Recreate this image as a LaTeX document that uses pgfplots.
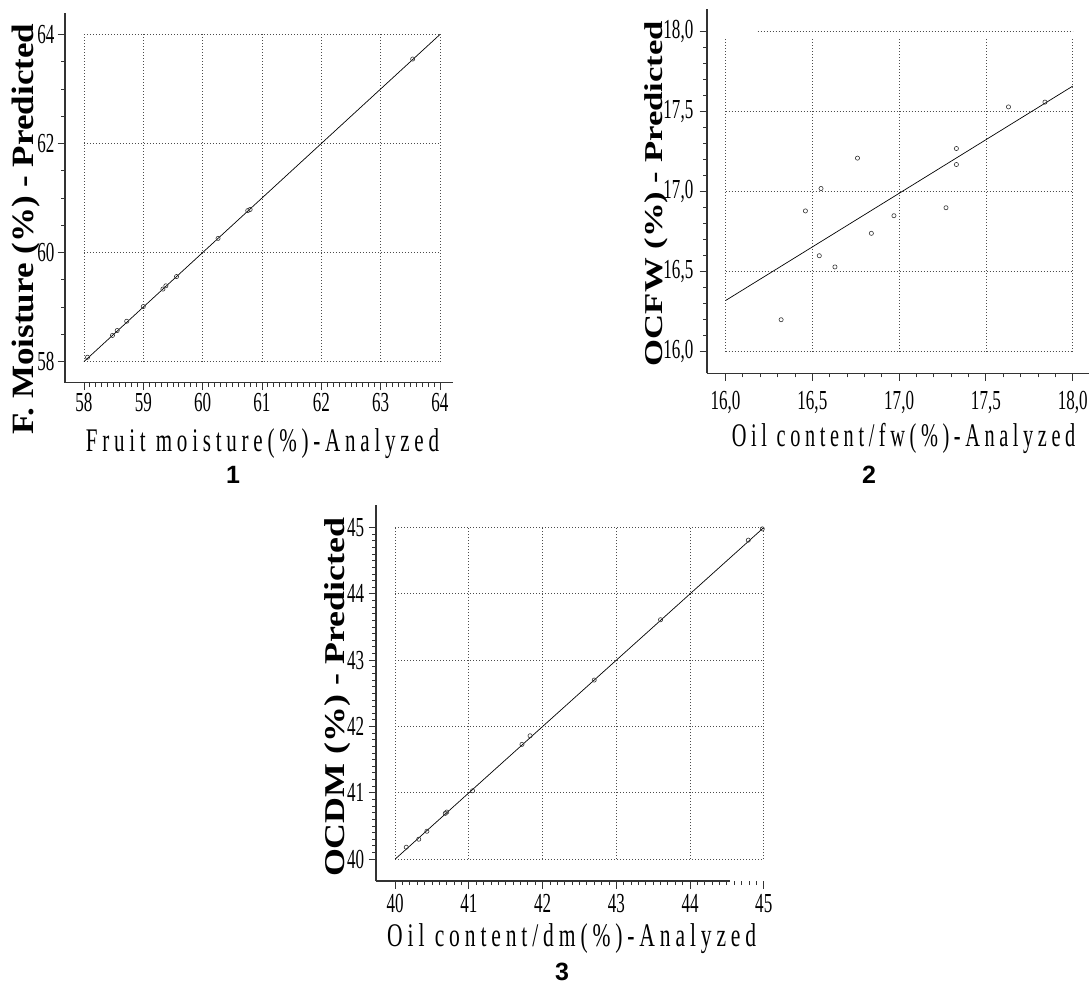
\documentclass[border=0pt]{standalone}
\usepackage{fontspec}
\setmainfont{Liberation Serif}
\usepackage{pgfplots}
\pgfplotsset{compat=1.18}
\newfontfamily\tickf[FakeStretch=0.62]{Liberation Serif}
\newfontfamily\xlabf[FakeStretch=0.62,LetterSpace=14]{Liberation Serif}
\newfontfamily\ylabA[FakeStretch=1.13]{Liberation Serif}
\newfontfamily\ylabB[FakeStretch=1.35]{Liberation Serif}
\newfontfamily\ylabC[FakeStretch=1.25]{Liberation Serif}
\newfontfamily\numf{Liberation Sans}
\begin{document}
\begin{tikzpicture}
\path[use as bounding box] (0pt,0pt) rectangle (1089pt,983pt);
\pgfplotsset{
 myax/.style={
  scale only axis,
  axis x line*=bottom, axis y line*=left,
  axis line style={-, line width=1.2pt, color=black!80},
  tick align=outside,
  major tick length=7.5pt, minor tick length=4pt,
  every tick/.style={line width=0.9pt, color=black!80},
  minor tick style={line width=0.9pt, color=black!80},
  tick label style={font=\tickf\fontsize{27.5}{28}\selectfont, inner sep=0pt},
  xticklabel style={/pgf/number format/assume math mode=true},
  yticklabel style={/pgf/number format/assume math mode=true},
  clip=false,
 },
 gridl/.style={black!70, line width=0.8pt, dash pattern=on 0.8pt off 2.2pt, forget plot},
 pts/.style={only marks, mark=o, mark size=2.1pt, mark options={line width=0.6pt, black!80}},
 fitl/.style={black, line width=0.7pt, no marks},
}
% ---------- Panel 1 ----------
\begin{axis}[myax, at={(65pt,600.3pt)}, anchor=south west, width=388pt, height=370pt,
  xmin=57.68, xmax=64.22, ymin=57.613, ymax=64.40,
  xtick={58,59,60,61,62,63,64}, minor x tick num=9,
  ytick={58,60,62,64}, minor y tick num=3,
  xticklabel shift=3pt, yticklabel shift=3pt]
\foreach \v in {58,59,60,61,62,63,64}{\edef\tmp{\noexpand\addplot[gridl] coordinates {(\v,58) (\v,64)};}\tmp}
\foreach \v in {58,60,62,64}{\edef\tmp{\noexpand\addplot[gridl] coordinates {(58,\v) (64,\v)};}\tmp}
\addplot[fitl] coordinates {(58,58) (64,64)};
\addplot[pts] coordinates {(58.06,58.08) (58.48,58.48) (58.56,58.57) (58.72,58.74) (59.00,59.01) (59.33,59.33) (59.38,59.39) (59.56,59.56) (60.26,60.26) (60.76,60.77) (60.80,60.79) (63.54,63.55)};
\end{axis}
% ---------- Panel 2 ----------
\begin{axis}[myax, at={(707pt,609.5pt)}, anchor=south west, width=382pt, height=364.5pt,
  xmin=15.893, xmax=18.094, ymin=15.864, ymax=18.142,
  xtick={16,16.5,17,17.5,18}, minor x tick num=4,
  ytick={16,16.5,17,17.5,18}, minor y tick num=4,
  xticklabel shift=10.5pt, yticklabel shift=6pt,
  xticklabel style={/pgf/number format/.cd,fixed,fixed zerofill,precision=1,use comma,assume math mode=true},
  yticklabel style={/pgf/number format/.cd,fixed,fixed zerofill,precision=1,use comma,assume math mode=true}]
\foreach \v in {16,16.5,17,17.5,18}{\edef\tmp{\noexpand\addplot[gridl] coordinates {(\v,16) (\v,17.96)};}\tmp}
\foreach \v in {16,16.5,17,17.5}{\edef\tmp{\noexpand\addplot[gridl] coordinates {(16,\v) (18,\v)};}\tmp}
\addplot[gridl] coordinates {(16.185,18) (18,18)};
\addplot[fitl] coordinates {(16,16.32) (18,17.66)};
\addplot[pts] coordinates {(16.32,16.20) (16.46,16.88) (16.55,17.02) (16.54,16.60) (16.63,16.53) (16.76,17.21) (16.84,16.74) (16.97,16.85) (17.27,16.90) (17.33,17.27) (17.33,17.17) (17.63,17.53) (17.84,17.56)};
\end{axis}
% ---------- Panel 3 ----------
\begin{axis}[myax, at={(376pt,102pt)}, anchor=south west, width=390.7pt, height=376pt,
  xmin=39.74, xmax=45.04, ymin=39.67, ymax=45.34,
  x axis line style={draw=none},
  xtick={40,41,42,43,44,45}, minor x tick num=9,
  ytick={40,41,42,43,44,45}, minor y tick num=9,
  xticklabel shift=5.5pt, yticklabel shift=4.2pt]
\draw[line width=1.2pt, black!80] (axis cs:39.74,39.67) -- (axis cs:44.54,39.67);
\foreach \v in {40,41,42,43,44,45}{\edef\tmp{\noexpand\addplot[gridl] coordinates {(\v,40) (\v,45)};}\tmp}
\foreach \v in {40,41,42,43,44,45}{\edef\tmp{\noexpand\addplot[gridl] coordinates {(40,\v) (45,\v)};}\tmp}
\addplot[fitl] coordinates {(40,40) (45,45)};
\addplot[pts] coordinates {(40.15,40.18) (40.32,40.30) (40.43,40.42) (40.68,40.69) (40.70,40.71) (41.05,41.03) (41.72,41.73) (41.83,41.86) (42.70,42.70) (43.60,43.61) (44.79,44.81) (44.98,44.98)};
\end{axis}
% ---------- labels ----------
\node[rotate=90, inner sep=0pt, font=\ylabA\bfseries\fontsize{31}{33}\selectfont] at (25.7pt,753.8pt) {F. Moisture (\%) - Predicted};
\node[rotate=90, inner sep=0pt, font=\ylabB\bfseries\fontsize{25.7}{27}\selectfont] at (656.5pt,789.5pt) {OCFW (\%) - Predicted};
\node[rotate=90, inner sep=0pt, font=\ylabC\bfseries\fontsize{28.7}{30}\selectfont] at (338pt,285.5pt) {OCDM (\%) - Predicted};
\node[anchor=base, inner sep=0pt, font=\xlabf\fontsize{33}{34}\selectfont] at (262.5pt,531.3pt) {\scalebox{1.029}[1]{Fruit moisture(\%)-Analyzed}};
\node[anchor=base, inner sep=0pt, font=\xlabf\fontsize{33}{34}\selectfont] at (903.6pt,536.3pt) {\scalebox{0.994}[1]{Oil content/fw(\%)-Analyzed}};
\node[anchor=base, inner sep=0pt, font=\xlabf\fontsize{33}{34}\selectfont] at (571.7pt,36.3pt) {\scalebox{1.054}[1]{Oil content/dm(\%)-Analyzed}};
\node[inner sep=0pt, font=\numf\bfseries\fontsize{25}{25}\selectfont] at (233pt,508pt) {1};
\node[inner sep=0pt, font=\numf\bfseries\fontsize{25}{25}\selectfont] at (869pt,508pt) {2};
\node[inner sep=0pt, font=\numf\bfseries\fontsize{25}{25}\selectfont] at (562pt,11pt) {3};
\end{tikzpicture}
\end{document}
